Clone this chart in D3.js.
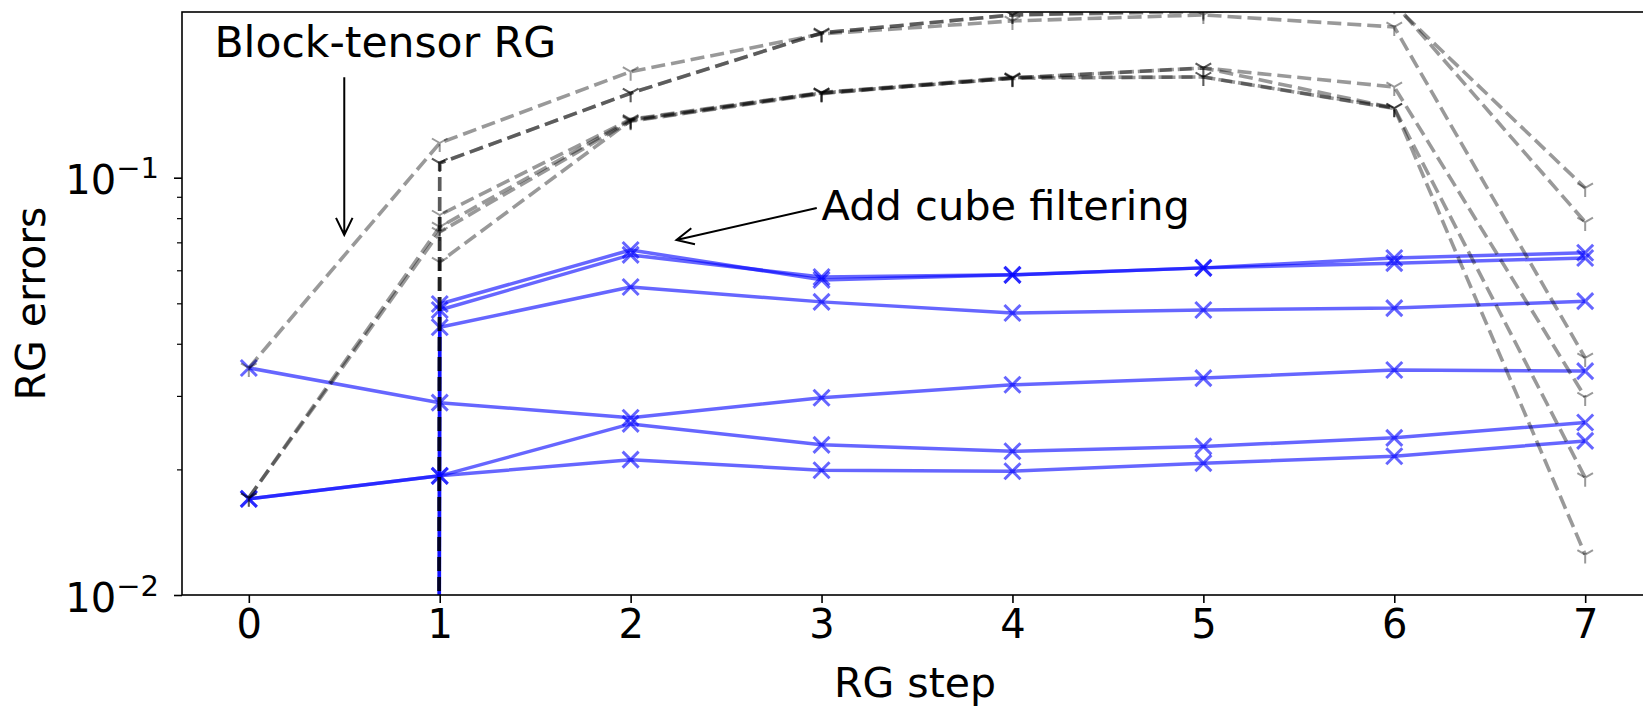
<!DOCTYPE html>
<html>
<head>
<meta charset="utf-8">
<script src="https://cdn.jsdelivr.net/npm/d3@7"></script>
<style>
  body { margin: 0; background: #fff; }
  text { font-family: "DejaVu Sans", sans-serif; }
</style>
</head>
<body>
<svg id="chart" width="1643" height="706"></svg>
<script>
// RG step on the x axis
var steps = [0, 1, 2, 3, 4, 5, 6, 7];

// with cube filtering (blue, solid, x markers); 0 = exact start (off the log axis)
var filtered = [
  [0.0350, 0.0289, 0.0266, 0.0297, 0.0319, 0.0331, 0.0346, 0.0344],
  [0.0170, 0.0193, 0.0257, 0.0229, 0.0221, 0.0227, 0.0238, 0.0259],
  [0.0170, 0.0193, 0.0211, 0.0199, 0.0198, 0.0207, 0.0215, 0.0234],
  [0,      0.0498, 0.0671, 0.0569, 0.0585, 0.0608, 0.0642, 0.0661],
  [0,      0.0482, 0.0653, 0.0578, 0.0585, 0.0608, 0.0624, 0.0642],
  [0,      0.0438, 0.0547, 0.0504, 0.0474, 0.0482, 0.0487, 0.0506]
];

// plain block-tensor RG (grey, dashed, tri markers); null = no value
var blockTensor = [
  [0.0350, 0.1211, 0.1795, 0.2211, 0.2375, 0.2455, 0.2297, 0.0370],
  [0,      0.1084, 0.1594, 0.2223, 0.2455, 0.2500, 0.2590, 0.0945],
  [0,      0.1084, 0.1594, 0.2223, 0.2455, 0.2520, 0.2620, 0.0783],
  [0.0171, 0.0762, 0.1375, 0.1596, 0.1733, 0.1832, 0.1650, 0.0298],
  [0.0171, 0.0741, 0.1365, 0.1590, 0.1733, 0.1832, 0.1469, 0.0191],
  [0,      0.0814, 0.1380, 0.1600, 0.1740, 0.1743, 0.1469, 0.0125],
  [0,      0.0628, 0.1370, 0.1596, 0.1730, 0.1743, 0.1465, null]
];

var yMajor = [0.01, 0.1];
var yMinor = [0.02, 0.03, 0.04, 0.05, 0.06, 0.07, 0.08, 0.09];

// annotations: text anchor and arrow (from -> to) in data coords
var notes = [
  {label: "Block-tensor RG", size: 42.5, tx: -0.18, ty: 0.1945, from: [0.50, 0.174], to: [0.50, 0.0729]},
  {label: "Add cube filtering", size: 41.5, tx: 3.0, ty: 0.0792, from: [2.975, 0.0846], to: [2.24, 0.0709]}
];

var svg = d3.select("#chart");
var margin = {top: 12, left: 182},
    plotRight = 1652,
    plotBottom = 595;

var x = d3.scaleLinear().domain([-0.35, 7.35]).range([margin.left, plotRight]);
var y = d3.scaleLog().domain([0.01, 0.2495]).range([plotBottom, margin.top]);

// matplotlib clips non-positive values far below the axis
function yv(v) { return y(v > 0 ? v : 1e-300); }

svg.append("defs").append("clipPath").attr("id", "clip")
  .append("rect")
    .attr("x", margin.left).attr("y", margin.top)
    .attr("width", plotRight - margin.left).attr("height", plotBottom - margin.top);

var plot = svg.append("g").attr("clip-path", "url(#clip)");

var line = d3.line()
  .defined(function(d) { return d !== null; })
  .x(function(d, i) { return x(steps[i]); })
  .y(function(d) { return yv(d); });

function points(s) {
  return s.map(function(v, i) { return [steps[i], v]; })
    .filter(function(d) { return d[1] !== null && d[1] > 0; });
}

// blue series
filtered.forEach(function(s) {
  var g = plot.append("g");
  g.append("path")
    .attr("d", line(s))
    .attr("fill", "none")
    .attr("stroke", "blue")
    .attr("stroke-opacity", 0.6)
    .attr("stroke-width", 3.5)
    .attr("stroke-linejoin", "round");
  g.selectAll("path.mk")
    .data(points(s))
    .enter().append("path")
      .attr("class", "mk")
      .attr("transform", function(d) { return "translate(" + x(d[0]) + "," + y(d[1]) + ")"; })
      .attr("d", "M-8,-8L8,8M-8,8L8,-8")
      .attr("stroke", "blue")
      .attr("stroke-opacity", 0.6)
      .attr("stroke-width", 3);
});

// grey dashed series
blockTensor.forEach(function(s) {
  var g = plot.append("g");
  g.append("path")
    .attr("d", line(s))
    .attr("fill", "none")
    .attr("stroke", "black")
    .attr("stroke-opacity", 0.4)
    .attr("stroke-width", 3.6)
    .attr("stroke-dasharray", "14,6");
  g.selectAll("path.mk")
    .data(points(s))
    .enter().append("path")
      .attr("class", "mk")
      .attr("transform", function(d) { return "translate(" + x(d[0]) + "," + y(d[1]) + ")"; })
      .attr("d", "M0,0L0,9M0,0L-7.8,-4.5M0,0L7.8,-4.5")
      .attr("stroke", "black")
      .attr("stroke-opacity", 0.4)
      .attr("stroke-width", 2);
});

// frame
svg.append("rect")
  .attr("x", margin.left).attr("y", margin.top)
  .attr("width", plotRight - margin.left).attr("height", plotBottom - margin.top)
  .attr("fill", "none").attr("stroke", "black").attr("stroke-width", 1.6);

// x axis
var xAxis = svg.append("g")
  .attr("transform", "translate(0," + plotBottom + ")")
  .call(d3.axisBottom(x).tickValues(steps).tickSize(8).tickPadding(7).tickFormat(d3.format("d")));
xAxis.select(".domain").remove();
xAxis.selectAll(".tick line").attr("stroke-width", 1.6);
xAxis.selectAll("text").attr("font-size", 40).attr("fill", "black");

// y axis, minor ticks
var yMinorAxis = svg.append("g")
  .attr("transform", "translate(" + margin.left + ",0)")
  .call(d3.axisLeft(y).tickValues(yMinor).tickSize(5).tickFormat(""));
yMinorAxis.select(".domain").remove();
yMinorAxis.selectAll(".tick line").attr("stroke-width", 1.2);

// y axis, major ticks with power labels
var yAxis = svg.append("g")
  .attr("transform", "translate(" + margin.left + ",0)")
  .call(d3.axisLeft(y).tickValues(yMajor).tickSize(8).tickFormat(""));
yAxis.select(".domain").remove();
yAxis.selectAll(".tick line").attr("stroke-width", 1.6);
yAxis.selectAll(".tick").each(function(d) {
  var t = d3.select(this).append("text")
    .attr("x", -23).attr("dy", "0.4em")
    .attr("text-anchor", "end")
    .attr("fill", "black")
    .attr("font-size", 40);
  t.append("tspan").text("10");
  t.append("tspan").attr("dy", "-0.55em").attr("font-size", 29).text("\u2212" + Math.abs(Math.round(Math.log10(d))));
});

// axis labels
svg.append("text")
  .attr("x", (margin.left + plotRight) / 2 - 2).attr("y", 697)
  .attr("text-anchor", "middle").attr("font-size", 41)
  .text("RG step");
svg.append("text")
  .attr("transform", "translate(45," + (margin.top + plotBottom) / 2 + ") rotate(-90)")
  .attr("text-anchor", "middle").attr("font-size", 41)
  .text("RG errors");

// annotations
notes.forEach(function(n) {
  svg.append("text")
    .attr("x", x(n.tx)).attr("y", y(n.ty))
    .attr("font-size", n.size)
    .text(n.label);
  var x0 = x(n.from[0]), y0 = y(n.from[1]), x1 = x(n.to[0]), y1 = y(n.to[1]);
  var a = Math.atan2(y1 - y0, x1 - x0), hl = 19, hw = 0.45;
  svg.append("path")
    .attr("d", "M" + x0 + "," + y0 + "L" + x1 + "," + y1 +
      "M" + (x1 - hl * Math.cos(a - hw)) + "," + (y1 - hl * Math.sin(a - hw)) +
      "L" + x1 + "," + y1 +
      "L" + (x1 - hl * Math.cos(a + hw)) + "," + (y1 - hl * Math.sin(a + hw)))
    .attr("fill", "none").attr("stroke", "black").attr("stroke-width", 2);
});
</script>
</body>
</html>
